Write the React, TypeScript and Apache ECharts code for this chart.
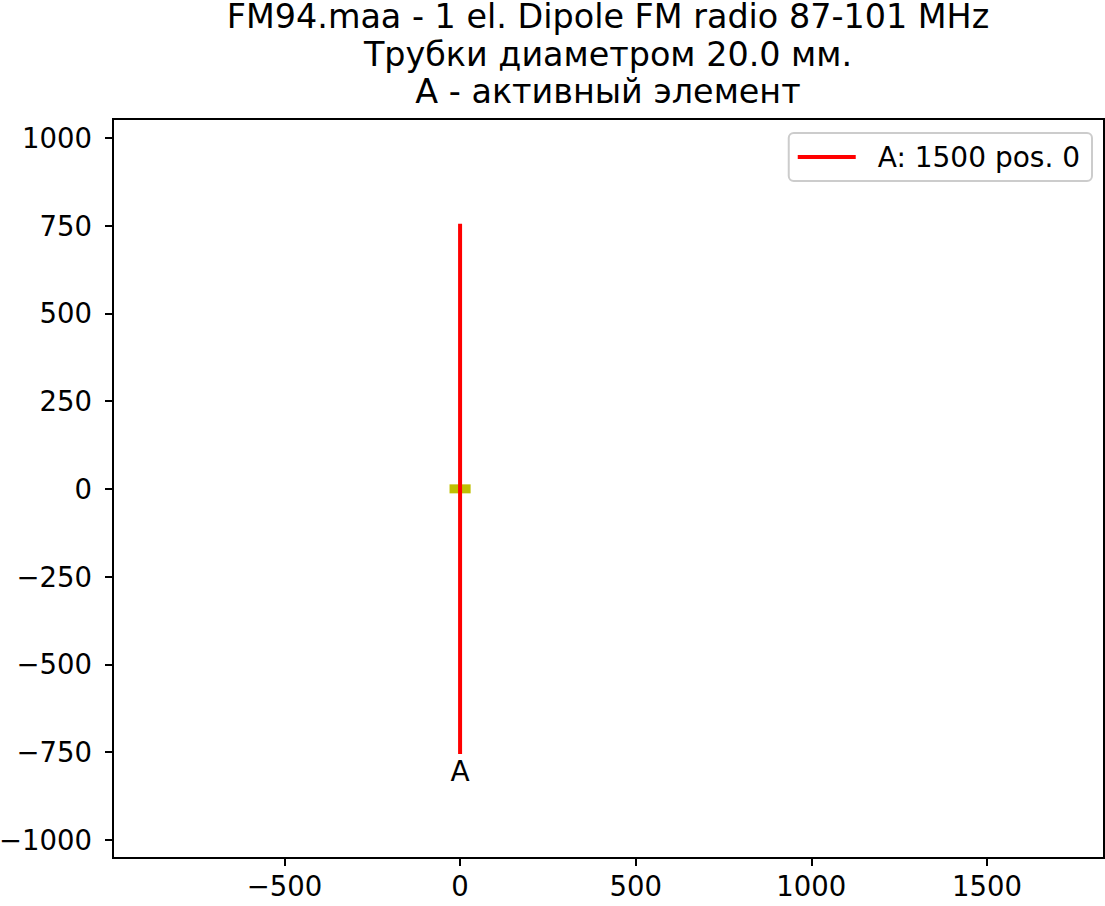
import { useEffect, useRef } from "react";
import * as echarts from "echarts";

// элементы антенны
const elementNames = ["A"];
const elementLengths = [1500];
const elementPositions = [0];
const legendLabels = ["A: 1500 pos. 0"];

// точка питания
const feedX = [-30, 30];
const feedY = [0, 0];

const xTicks = [-500, 0, 500, 1000, 1500];
const yTicks = [-1000, -750, -500, -250, 0, 250, 500, 750, 1000];

const titleLines = [
  "FM94.maa - 1 el. Dipole FM radio 87-101 MHz",
  "Трубки диаметром 20.0 мм.",
  "A - активный элемент",
];

const FONT = "DejaVu Sans";
const fmt = (v: number) => String(v).replace("-", "\u2212");

export default function App() {
  const chartRef = useRef<HTMLDivElement | null>(null);

  useEffect(() => {
    if (!chartRef.current) return;
    const chart = echarts.init(chartRef.current, undefined, { renderer: "svg" });

    const elementSeries = elementNames.map((name, i) => ({
      name: legendLabels[i],
      type: "line",
      data: [
        [elementPositions[i], -elementLengths[i] / 2],
        [elementPositions[i], elementLengths[i] / 2],
      ],
      symbol: "none",
      lineStyle: { color: "#ff0000", width: 4, cap: "square" },
      itemStyle: { color: "#ff0000" },
      z: 3,
    }));

    const labelSeries = {
      name: "labels",
      type: "scatter",
      data: elementNames.map((name, i) => ({
        name,
        value: [elementPositions[i], -elementLengths[i] / 2],
      })),
      symbolSize: 0,
      itemStyle: { opacity: 1 },
      label: {
        show: true,
        formatter: (p: any) => p.name,
        position: "bottom",
        distance: 5,
        color: "#000000",
        fontFamily: FONT,
        fontSize: 28,
      },
      z: 4,
    };

    // заголовок — по строке на компонент
    const titles = titleLines.map((line, i) => ({
      text: line,
      left: 608,
      top: 2 + i * 37.5,
      textAlign: "center",
      padding: 0,
      textStyle: {
        fontFamily: FONT,
        fontWeight: "normal",
        fontSize: 33.4,
        lineHeight: 29,
        color: "#000",
      },
    }));

    chart.setOption({
      animation: false,
      backgroundColor: "#fff",
      title: titles,
      legend: {
        data: legendLabels,
        right: 13,
        top: 133,
        icon: "rect",
        itemWidth: 58,
        itemHeight: 4,
        padding: [10, 12, 10, 9],
        borderColor: "#cccccc",
        borderWidth: 2,
        borderRadius: 5,
        backgroundColor: "#fff",
        textStyle: {
          fontFamily: FONT,
          fontSize: 28,
          color: "#000",
          padding: [0, 0, 0, 17],
        },
      },
      grid: {
        left: 113,
        top: 119,
        width: 991,
        height: 739,
        containLabel: false,
        outerBoundsMode: "none",
        show: true,
        borderColor: "#000",
        borderWidth: 2,
        backgroundColor: "transparent",
      },
      xAxis: {
        type: "value",
        min: -988,
        max: 1833,
        splitLine: { show: false },
        axisLine: { show: false, onZero: false },
        axisTick: {
          show: true,
          length: 8,
          lineStyle: { color: "#000", width: 2 },
          customValues: xTicks,
        },
        axisLabel: {
          fontFamily: FONT,
          fontSize: 27.5,
          color: "#000",
          margin: 14,
          customValues: xTicks,
          formatter: (v: number) => fmt(v),
        },
      },
      yAxis: {
        type: "value",
        min: -1052,
        max: 1054,
        splitLine: { show: false },
        axisLine: { show: false, onZero: false },
        axisTick: {
          show: true,
          length: 8,
          lineStyle: { color: "#000", width: 2 },
          customValues: yTicks,
        },
        axisLabel: {
          fontFamily: FONT,
          fontSize: 27.5,
          color: "#000",
          margin: 21,
          customValues: yTicks,
          formatter: (v: number) => fmt(v),
        },
      },
      series: [
        {
          name: "feed",
          type: "line",
          data: feedX.map((x, i) => [x, feedY[i]]),
          symbol: "none",
          lineStyle: { color: "#bfbf00", width: 9, cap: "butt" },
          z: 2,
        },
        ...elementSeries,
        labelSeries,
      ],
    });

    return () => {
      chart.dispose();
    };
  }, []);

  return (
    <div
      ref={chartRef}
      style={{ position: "absolute", left: 0, top: 0, width: 1105, height: 906 }}
    />
  );
}
